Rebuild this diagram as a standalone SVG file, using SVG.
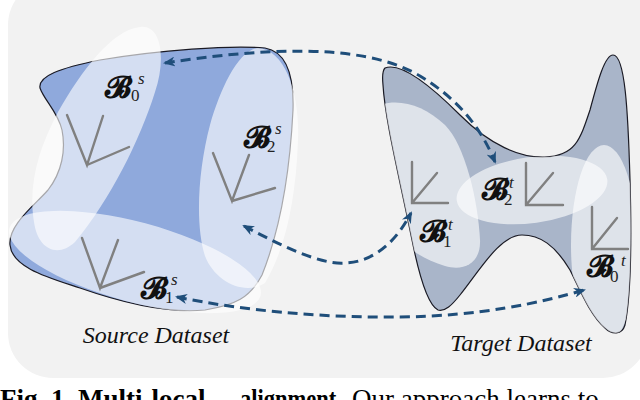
<svg xmlns="http://www.w3.org/2000/svg" width="640" height="400" viewBox="0 0 640 400">
<defs>
<style>
.bg{fill:#f2f2f2}
.outline{stroke:#1a1a24;stroke-width:1.2}
.src{fill:#8fa9dc}
.tgt{fill:#a9b5c9}
.ov{fill:#ffffff;fill-opacity:0.62}
.ax{fill:none;stroke:#808080;stroke-width:2.4;stroke-linecap:round}
.B{font-family:"DejaVu Serif","DejaVu Sans",serif;font-size:30px;font-weight:bold;fill:#111}
.sub{font-family:"Liberation Serif",serif;font-size:17px;font-weight:normal;font-style:normal;fill:#222}
.sup{font-family:"Liberation Serif",serif;font-size:17px;font-weight:normal;font-style:italic;fill:#222}
.lbl{font-family:"Liberation Serif",serif;font-size:24px;font-style:italic;fill:#111}
.cap{font-family:"Liberation Serif",serif;font-size:27px;fill:#000}
.conn{fill:none;stroke:#1f4e7a;stroke-width:3;stroke-dasharray:10 6}
</style>
<marker id="ah" viewBox="0 0 12 10" refX="10" refY="5" markerWidth="12" markerHeight="10" markerUnits="userSpaceOnUse" orient="auto-start-reverse">
<path d="M0,0 L12,5 L0,10 L3.5,5 Z" fill="#1f4e7a"/>
</marker>
<clipPath id="tclip">
<path d="M 385,68 C 400,62 430,85 460,115 C 490,145 520,158 545,157 C 575,156 580,140 590,110 C 598,80 605,55 613,55 C 625,55 628,110 630,180 C 632,250 630,300 625,325 C 622,335 612,335 605,328 C 590,315 580,290 570,270 C 555,245 540,235 522,235 C 500,235 480,270 460,295 C 452,305 445,312 438,310 C 428,305 420,280 412,240 C 400,180 385,120 383,85 C 382,75 383,70 385,68 Z"/>
</clipPath>
</defs>
<rect class="bg" x="8" y="-20" width="640" height="398" rx="45"/>

<g id="source-dataset">
<path class="src outline" d="M 40,88 C 38,76 60,68 100,60 C 160,50 230,45 265,48 C 288,52 294,78 293,110 C 290,170 280,230 262,275 C 250,298 235,305 205,310 C 165,314 120,302 80,288 C 50,278 12,268 10,245 C 8,225 35,205 48,190 C 62,172 66,150 62,130 C 58,112 44,100 40,88 Z"/>
<path class="ov" d="M 140,27 C 162,24 166,60 155,92 C 140,140 110,200 75,242 C 58,258 38,250 34,222 C 28,185 38,150 58,112 C 82,70 112,30 140,27 Z"/>
<path class="ov" d="M 258,48 C 286,50 300,95 298,140 C 296,200 285,250 265,283 C 245,296 215,282 205,256 C 195,225 198,170 210,125 C 220,90 238,50 258,48 Z"/>
<ellipse class="ov" cx="135" cy="262" rx="130" ry="40" transform="rotate(15 135 262)"/>
</g>

<g id="target-dataset">
<path class="tgt outline" d="M 385,68 C 400,62 430,85 460,115 C 490,145 520,158 545,157 C 575,156 580,140 590,110 C 598,80 605,55 613,55 C 625,55 628,110 630,180 C 632,250 630,300 625,325 C 622,335 612,335 605,328 C 590,315 580,290 570,270 C 555,245 540,235 522,235 C 500,235 480,270 460,295 C 452,305 445,312 438,310 C 428,305 420,280 412,240 C 400,180 385,120 383,85 C 382,75 383,70 385,68 Z"/>
<g clip-path="url(#tclip)">
<path class="ov" d="M 380,105 C 400,98 425,106 445,125 C 465,145 478,200 480,240 C 481,262 465,272 445,266 C 420,258 400,245 390,225 C 375,190 365,112 380,105 Z"/>
<ellipse class="ov" cx="532" cy="190" rx="76" ry="33" transform="rotate(-8 532 190)"/>
<ellipse class="ov" cx="604" cy="245" rx="33" ry="100"/>
</g>
</g>

<g id="basis-B0s">
<path class="ax" d="M67,115 L87,165 L103,116 M87,165 L129,147"/>
<text class="B" x="105" y="97">𝓑<tspan class="sub" x="131" y="101">0</tspan><tspan class="sup" x="138" y="84">s</tspan></text>
</g>
<g id="basis-B2s">
<path class="ax" d="M213,153 L232,201 L249,155 M232,201 L275,188"/>
<text class="B" x="244" y="147">𝓑<tspan class="sub" x="267" y="152">2</tspan><tspan class="sup" x="275" y="134">s</tspan></text>
</g>
<g id="basis-B1s">
<path class="ax" d="M82,238 L100,288 L118,240 M100,288 L144,272"/>
<text class="B" x="141" y="298">𝓑<tspan class="sub" x="165" y="303">1</tspan><tspan class="sup" x="171" y="285">s</tspan></text>
</g>
<g id="basis-B1t">
<path class="ax" d="M412,162 L412,203 L448,203 M412,203 L437,173"/>
<text class="B" x="420" y="241">𝓑<tspan class="sub" x="443" y="247">1</tspan><tspan class="sup" x="448" y="230">t</tspan></text>
</g>
<g id="basis-B2t">
<path class="ax" d="M526,163 L526,205 L563,205 M526,205 L553,173"/>
<text class="B" x="482" y="199">𝓑<tspan class="sub" x="504" y="205">2</tspan><tspan class="sup" x="509" y="188">t</tspan></text>
</g>
<g id="basis-B0t">
<path class="ax" d="M592,207 L592,249 L628,249 M592,249 L617,218"/>
<text class="B" x="587" y="276">𝓑<tspan class="sub" x="610" y="282">0</tspan><tspan class="sup" x="621" y="266">t</tspan></text>
</g>

<g id="connectors">
<path class="conn" marker-start="url(#ah)" marker-end="url(#ah)" d="M 165,63 C 250,50 360,40 420,76 C 460,100 482,130 495,162"/>
<path class="conn" marker-start="url(#ah)" marker-end="url(#ah)" d="M 244,226 C 280,245 320,265 345,263 C 375,262 397,240 411,213"/>
<path class="conn" marker-start="url(#ah)" marker-end="url(#ah)" d="M 177,297 C 240,310 320,318 400,317 C 480,316 540,303 584,290"/>
</g>

<text class="lbl" x="156" y="343" text-anchor="middle">Source Dataset</text>
<text class="lbl" x="521" y="351" text-anchor="middle">Target Dataset</text>

<text class="cap" x="0" y="408"><tspan font-weight="bold">Fig. 1. Multi-local</tspan><tspan font-weight="bold" x="240" textLength="102" lengthAdjust="spacingAndGlyphs">alignment.</tspan><tspan x="352">Our approach learns to</tspan></text>
</svg>
